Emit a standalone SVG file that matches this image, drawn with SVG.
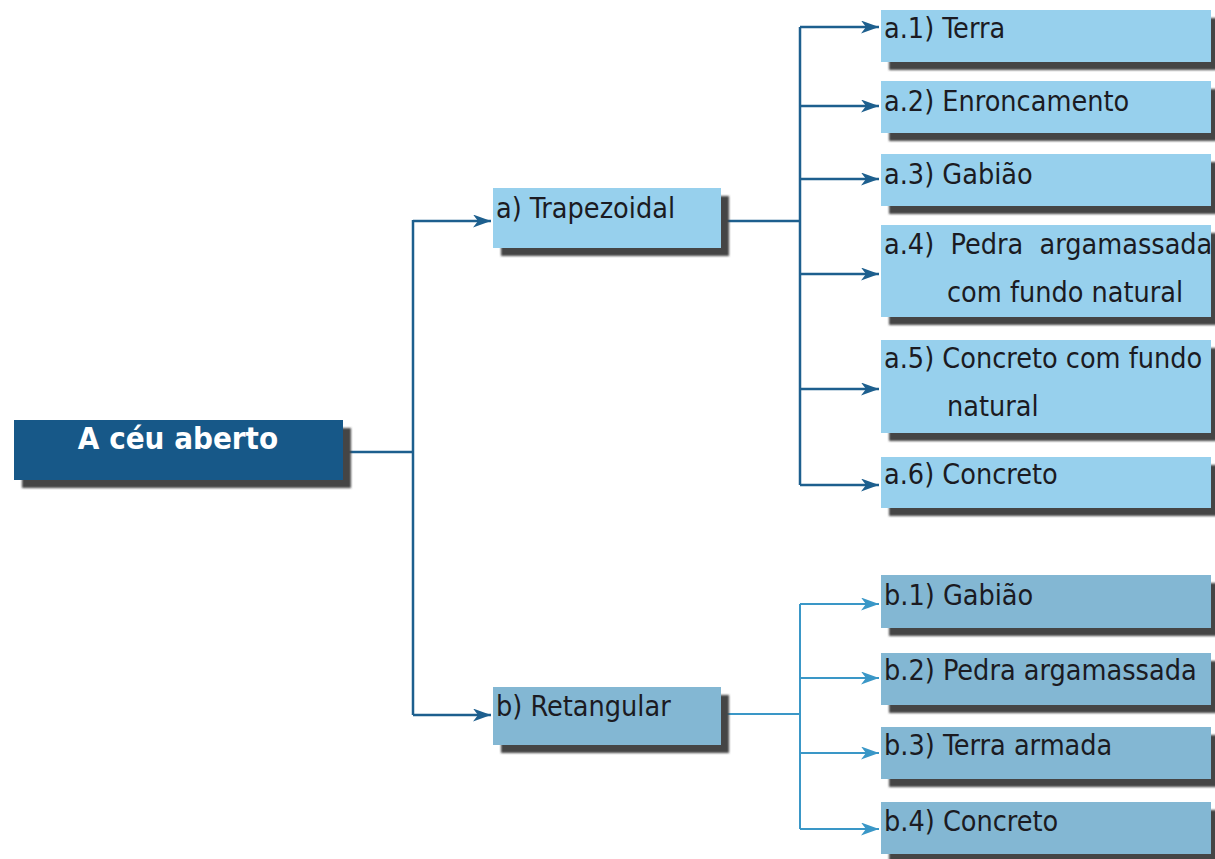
<svg xmlns="http://www.w3.org/2000/svg" width="1215" height="859" viewBox="0 0 1215 859">
<defs>
<marker id="arrA" viewBox="0 0 18 13" refX="18" refY="6.5" markerWidth="18" markerHeight="13" markerUnits="userSpaceOnUse" orient="auto"><path d="M0,0 L18,6.5 L0,13 L5,6.5 z" fill="#1d5f8e"/></marker>
<marker id="arrB" viewBox="0 0 18 13" refX="18" refY="6.5" markerWidth="18" markerHeight="13" markerUnits="userSpaceOnUse" orient="auto"><path d="M0,0 L18,6.5 L0,13 L5,6.5 z" fill="#3a97c7"/></marker>
<filter id="blur" x="-5%" y="-10%" width="110%" height="120%"><feGaussianBlur stdDeviation="1"/></filter>
</defs>
<style>
.sh{fill:#444444;filter:url(#blur)}
.ba{fill:#97d0ed}
.bb{fill:#83b7d3}
.t{font-family:"DejaVu Sans Condensed","Liberation Sans Narrow","Liberation Sans",sans-serif;font-size:28.5px;fill:#1b1b22;white-space:pre}
.ca{fill:none;stroke:#1d5f8e;stroke-width:2.5}
.cb{fill:none;stroke:#3a97c7;stroke-width:2}
</style>
<rect width="1215" height="859" fill="#ffffff"/>
<g id="connectors">
<path class="ca" d="M343,452 H413 M413,220 V715"/>
<path class="ca" d="M413,221 H491" marker-end="url(#arrA)"/>
<path class="ca" d="M413,715 H491" marker-end="url(#arrA)"/>
<path class="ca" d="M721,221 H800 M800,27 V485"/>
<path class="ca" d="M800,27 H879" marker-end="url(#arrA)"/>
<path class="ca" d="M800,106 H879" marker-end="url(#arrA)"/>
<path class="ca" d="M800,179 H879" marker-end="url(#arrA)"/>
<path class="ca" d="M800,274 H879" marker-end="url(#arrA)"/>
<path class="ca" d="M800,389 H879" marker-end="url(#arrA)"/>
<path class="ca" d="M800,485 H879" marker-end="url(#arrA)"/>
<path class="cb" d="M721,714 H800 M800,604 V829"/>
<path class="cb" d="M800,604 H879" marker-end="url(#arrB)"/>
<path class="cb" d="M800,678 H879" marker-end="url(#arrB)"/>
<path class="cb" d="M800,753 H879" marker-end="url(#arrB)"/>
<path class="cb" d="M800,829 H879" marker-end="url(#arrB)"/>
</g>
<g id="root">
<rect class="sh" x="22" y="428" width="329" height="60"/>
<rect x="14" y="420" width="329" height="60" fill="#175888"/>
<text x="178" y="449" text-anchor="middle" font-family="DejaVu Sans Condensed,Liberation Sans,sans-serif" font-size="31" font-weight="bold" fill="#ffffff">A céu aberto</text>
</g>
<g id="a">
<rect class="sh" x="501" y="196" width="228" height="60"/>
<rect class="ba" x="493" y="188" width="228" height="60"/>
<text class="t" x="496" y="218">a) Trapezoidal</text>
</g>
<g id="b">
<rect class="sh" x="501" y="695" width="228" height="58"/>
<rect class="bb" x="493" y="687" width="228" height="58"/>
<text class="t" x="496" y="716">b) Retangular</text>
</g>
<g id="a1">
<rect class="sh" x="889" y="18" width="330" height="52"/>
<rect class="ba" x="881" y="10" width="330" height="52"/>
<text class="t" x="884" y="38">a.1) Terra</text>
</g>
<g id="a2">
<rect class="sh" x="889" y="89" width="330" height="52"/>
<rect class="ba" x="881" y="81" width="330" height="52"/>
<text class="t" x="884" y="111">a.2) Enroncamento</text>
</g>
<g id="a3">
<rect class="sh" x="889" y="162" width="330" height="52"/>
<rect class="ba" x="881" y="154" width="330" height="52"/>
<text class="t" x="884" y="184">a.3) Gabião</text>
</g>
<g id="a4">
<rect class="sh" x="889" y="233" width="330" height="92"/>
<rect class="ba" x="881" y="225" width="330" height="92"/>
<text class="t" x="884" y="254" xml:space="preserve">a.4)  Pedra  argamassada</text>
<text class="t" x="947" y="302">com fundo natural</text>
</g>
<g id="a5">
<rect class="sh" x="889" y="348" width="330" height="93"/>
<rect class="ba" x="881" y="340" width="330" height="93"/>
<text class="t" x="884" y="368">a.5) Concreto com fundo</text>
<text class="t" x="947" y="416">natural</text>
</g>
<g id="a6">
<rect class="sh" x="889" y="465" width="330" height="51"/>
<rect class="ba" x="881" y="457" width="330" height="51"/>
<text class="t" x="884" y="484">a.6) Concreto</text>
</g>
<g id="b1">
<rect class="sh" x="889" y="583" width="330" height="53"/>
<rect class="bb" x="881" y="575" width="330" height="53"/>
<text class="t" x="884" y="605">b.1) Gabião</text>
</g>
<g id="b2">
<rect class="sh" x="889" y="661" width="330" height="52"/>
<rect class="bb" x="881" y="653" width="330" height="52"/>
<text class="t" x="884" y="680">b.2) Pedra argamassada</text>
</g>
<g id="b3">
<rect class="sh" x="889" y="735" width="330" height="52"/>
<rect class="bb" x="881" y="727" width="330" height="52"/>
<text class="t" x="884" y="755">b.3) Terra armada</text>
</g>
<g id="b4">
<rect class="sh" x="889" y="810" width="330" height="52"/>
<rect class="bb" x="881" y="802" width="330" height="52"/>
<text class="t" x="884" y="831">b.4) Concreto</text>
</g>
</svg>
